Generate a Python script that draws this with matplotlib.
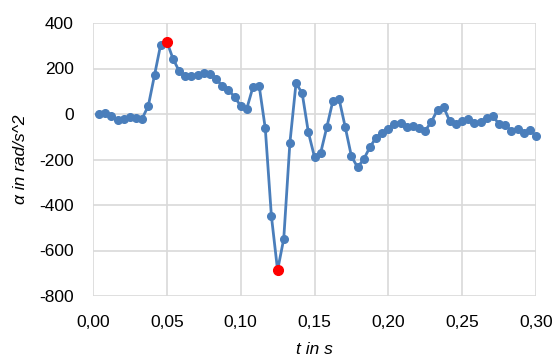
import numpy as np
import matplotlib.pyplot as plt
from matplotlib.ticker import FuncFormatter

# angular acceleration samples, dt = 1/240 s
t = np.arange(1, 73) / 240.0
alpha = [
    0, 4, -9, -28, -20, -15, -16, -20, 37, 171, 305, 318,
    243, 189, 166, 165, 171, 182, 176, 156, 122, 107, 75, 36,
    24, 119, 125, -63, -450, -687, -549, -127, 136, 91, -80, -189,
    -171, -58, 59, 65, -58, -186, -234, -199, -146, -104, -83, -64,
    -42, -38, -56, -53, -63, -73, -34, 19, 29, -32, -42, -32,
    -20, -38, -34, -17, -9, -45, -50, -73, -64, -82, -69, -97,
]
# highlighted extrema (sample index)
peak_idx = [11, 29]

blue = "#4A7EBB"
grid_col = "#D9D9D9"

plt.rcParams["font.family"] = ["Liberation Sans", "DejaVu Sans"]

fig = plt.figure(figsize=(5.55, 3.63), dpi=100)
ax = fig.add_axes([93 / 555, 1 - 296 / 363, 443 / 555, 273 / 363])

ax.plot(t, alpha, color=blue, lw=2, marker="o", ms=5.5, zorder=3, clip_on=False)
ax.plot(t[peak_idx], np.array(alpha)[peak_idx], "o", color="#FF0000", ms=7, zorder=4)

ax.set_xlim(0, 0.30)
ax.set_ylim(-800, 400)
ax.set_xticks(np.arange(0, 0.301, 0.05))
ax.set_yticks(np.arange(-800, 401, 200))
ax.xaxis.set_major_formatter(FuncFormatter(lambda v, p: f"{v:.2f}".replace(".", ",")))
ax.yaxis.set_major_formatter(FuncFormatter(lambda v, p: f"{v:.0f}"))

ax.grid(True, color=grid_col, lw=1.2)
for s in ax.spines.values():
    s.set_visible(False)
ax.tick_params(length=0, labelsize=12.5, colors="#000000")
ax.tick_params(axis="x", pad=14)
ax.tick_params(axis="y", pad=14)

ax.set_xlabel("t in s", fontsize=12.5, style="italic", labelpad=8)
ax.set_ylabel("α in rad/s^2", fontsize=12.5, style="italic", labelpad=8)

fig.savefig("out.png", dpi=100)
